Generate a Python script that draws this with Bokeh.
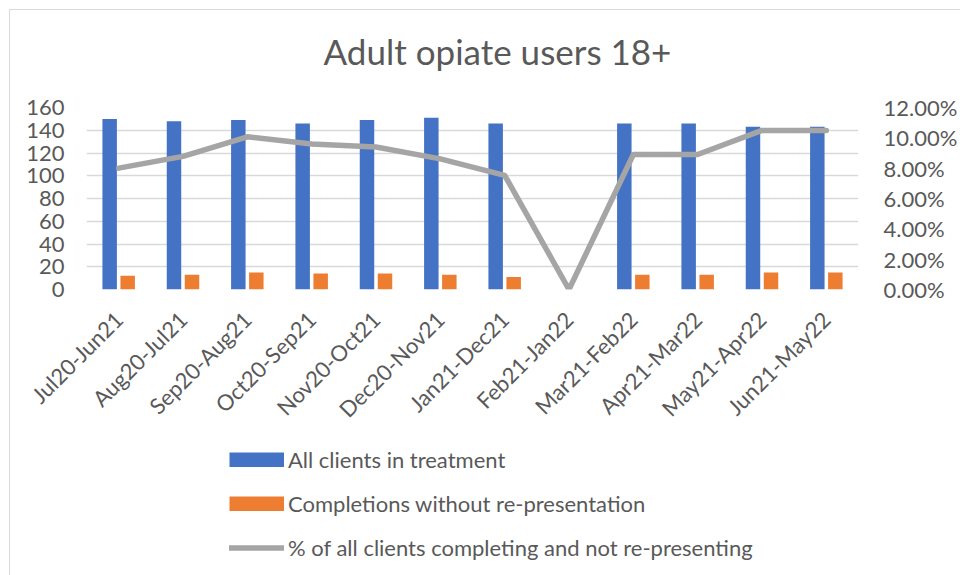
from math import pi
from bokeh.plotting import figure
from bokeh.layouts import column
from bokeh.models import (FactorRange, Range1d, LinearAxis, FixedTicker, NumeralTickFormatter,
                          ColumnDataSource, Legend, LegendItem, Label)
from bokeh.transform import dodge
from bokeh.embed import file_html
from bokeh.resources import INLINE

categories = ["Jul20-Jun21", "Aug20-Jul21", "Sep20-Aug21", "Oct20-Sep21", "Nov20-Oct21",
              "Dec20-Nov21", "Jan21-Dec21", "Feb21-Jan22", "Mar21-Feb22", "Apr21-Mar22",
              "May21-Apr22", "Jun21-May22"]
all_clients = [150, 148, 149, 146, 149, 151, 146, 0, 146, 146, 143, 143]
completions = [12, 13, 15, 14, 14, 13, 11, 0, 13, 13, 15, 15]
pct_completing = [0.0800, 0.0878, 0.1007, 0.0959, 0.0940, 0.0861, 0.0753, 0.0,
                  0.0890, 0.0890, 0.1049, 0.1049]
left_ticks = [0, 20, 40, 60, 80, 100, 120, 140, 160]
right_ticks = [0, 0.02, 0.04, 0.06, 0.08, 0.10, 0.12]
series_names = ["All clients in treatment", "Completions without re-presentation",
                "% of all clients completing and not re-presenting"]
chart_title = "Adult opiate users 18+"

FONT = "Lato"
TXT = "#595959"
BLUE, ORANGE, GREY = "#4472C4", "#ED7D31", "#A5A5A5"
BORDER = "1px solid #d9d9d9"
W = 951


def blank(fig):
    fig.outline_line_color = None
    fig.grid.visible = False
    fig.background_fill_color = "white"
    fig.border_fill_color = "white"


# ---- title strip ----
TH = 81
tf = figure(width=W, height=TH, x_range=Range1d(0, 772), y_range=Range1d(0, TH),
            x_axis_type=None, y_axis_type=None, output_backend="svg", toolbar_location=None,
            min_border=0, title_location=None)
tf.margin = (9, 0, 0, 9)
tf.styles = {"border-left": BORDER, "border-top": BORDER}
blank(tf)
tf.add_layout(Label(x=237, y=41, text=chart_title, text_font=FONT, text_font_size="35px",
                    text_color=TXT, text_align="left", text_baseline="middle"))

# ---- main chart ----
src = ColumnDataSource(dict(cat=categories, clients=all_clients, comp=completions, pct=pct_completing))

p = figure(x_range=FactorRange(*categories), y_range=Range1d(0, 160),
           width=W, height=345, output_backend="svg", toolbar_location=None,
           min_border_left=76, min_border_right=103, min_border_top=17, min_border_bottom=146,
           title_location=None)
p.margin = (0, 0, 0, 9)
p.styles = {"border-left": BORDER}
p.extra_y_ranges = {"pct": Range1d(0, 0.12)}
p.outline_line_color = None
p.background_fill_color = "white"
p.border_fill_color = "white"

p.xgrid.grid_line_color = None
p.ygrid.ticker = FixedTicker(ticks=left_ticks)
p.ygrid.grid_line_color = "#d9d9d9"
p.ygrid.grid_line_width = 1.5

p.vbar(x=dodge("cat", -0.14, range=p.x_range), top="clients", width=0.225,
       source=src, fill_color=BLUE, line_color=None)
p.vbar(x=dodge("cat", 0.14, range=p.x_range), top="comp", width=0.225,
       source=src, fill_color=ORANGE, line_color=None)
p.line(x="cat", y="pct", source=src, y_range_name="pct", line_color=GREY,
       line_width=5.5, line_join="round", line_cap="round")

for ax in p.yaxis + p.xaxis:
    ax.axis_line_color = None
    ax.major_tick_line_color = None
    ax.minor_tick_line_color = None
    ax.major_tick_out = 0
    ax.major_tick_in = 0
    ax.major_label_text_font = FONT
    ax.major_label_text_color = TXT
    ax.major_label_text_font_size = "22px"

p.yaxis.ticker = FixedTicker(ticks=left_ticks)
p.yaxis.major_label_standoff = 22
p.xaxis.major_label_orientation = pi / 4
p.xaxis.major_label_standoff = 26

right = LinearAxis(y_range_name="pct", ticker=FixedTicker(ticks=right_ticks),
                   formatter=NumeralTickFormatter(format="0.00%"))
right.axis_line_color = None
right.major_tick_line_color = None
right.minor_tick_line_color = None
right.major_tick_out = 0
right.major_tick_in = 0
right.major_label_text_font = FONT
right.major_label_text_color = TXT
right.major_label_text_font_size = "22px"
right.major_label_standoff = 25
p.add_layout(right, "right")

# ---- legend strip (swatch renderers sit outside the visible range) ----
lf = figure(width=W, height=140, x_range=Range1d(0, 1), y_range=Range1d(0, 1),
            x_axis_type=None, y_axis_type=None, output_backend="svg", toolbar_location=None,
            min_border=0, title_location=None)
lf.margin = (0, 0, 0, 9)
lf.styles = {"border-left": BORDER}
blank(lf)
sw1 = lf.line(x=[-5, -4], y=[-5, -5], line_color=BLUE, line_width=15, line_cap="butt")
sw2 = lf.line(x=[-5, -4], y=[-5, -5], line_color=ORANGE, line_width=15, line_cap="butt")
sw3 = lf.line(x=[-5, -4], y=[-5, -5], line_color=GREY, line_width=5.5, line_cap="round")

legend = Legend(items=[LegendItem(label=n, renderers=[r])
                       for n, r in zip(series_names, [sw1, sw2, sw3])],
                location=(143, 14), orientation="vertical")
legend.padding = 0
legend.margin = 0
legend.spacing = 17
legend.glyph_width = 55
legend.glyph_height = 15
legend.label_height = 22
legend.label_standoff = 4
legend.label_text_font = FONT
legend.label_text_font_size = "22px"
legend.label_text_color = TXT
legend.border_line_color = None
legend.background_fill_alpha = 0
lf.add_layout(legend, "center")

layout = column(tf, p, lf, spacing=0)
open("out.html", "w").write(file_html(layout, INLINE))
